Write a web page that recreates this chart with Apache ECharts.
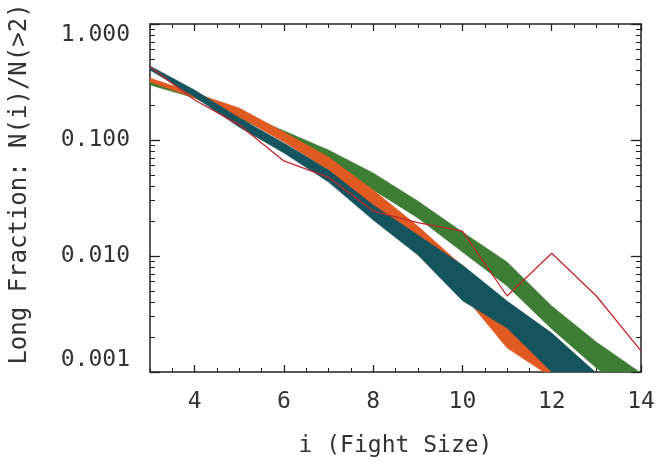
<!DOCTYPE html>
<html>
<head>
<meta charset="utf-8">
<script src="https://cdn.jsdelivr.net/npm/echarts@6/dist/echarts.min.js"></script>
<style>
  html, body { margin: 0; padding: 0; background: #fff; }
  #main { width: 661px; height: 464px; }
</style>
</head>
<body>
<div id="main"></div>
<script>
  // fight size on x, fraction on log y
  const redX = [3, 4, 5, 6, 7, 8, 9, 10, 11, 12, 13, 14];
  const redY = [0.428, 0.221, 0.135, 0.066, 0.0477, 0.0244, 0.0194, 0.0164, 0.00452, 0.01055, 0.00452, 0.00152];

  const greenX = [3, 4, 5, 6, 7, 8, 9, 10, 11, 12, 13, 14];
  const greenHi = [0.329, 0.244, 0.174, 0.120, 0.082, 0.052, 0.0298, 0.0161, 0.00887, 0.00371, 0.00181, 0.00098];
  const greenLo = [0.298, 0.230, 0.152, 0.106, 0.0646, 0.0371, 0.0213, 0.0108, 0.00551, 0.00235, 0.00108, 0.0006];

  const orangeX = [3, 4, 5, 6, 7, 8, 9, 10, 11, 12];
  const orangeHi = [0.342, 0.254, 0.189, 0.117, 0.0714, 0.0371, 0.0181, 0.0082, 0.00378, 0.00105];
  const orangeLo = [0.316, 0.230, 0.158, 0.0961, 0.0551, 0.0244, 0.011, 0.0047, 0.00161, 0.0009];

  const tealX = [3, 4, 5, 6, 7, 8, 9, 10, 11, 12, 13];
  const tealHi = [0.435, 0.270, 0.155, 0.0942, 0.0551, 0.0275, 0.0152, 0.00836, 0.00409, 0.00217, 0.00098];
  const tealLo = [0.401, 0.235, 0.129, 0.0773, 0.0434, 0.0204, 0.0102, 0.00412, 0.00239, 0.00100, 0.0005];

  const xMajor = [4, 6, 8, 10, 12, 14];
  const yMinor = [0.002, 0.003, 0.004, 0.005, 0.006, 0.007, 0.008, 0.009,
                  0.02, 0.03, 0.04, 0.05, 0.06, 0.07, 0.08, 0.09,
                  0.2, 0.3, 0.4, 0.5, 0.6, 0.7, 0.8, 0.9];

  const FONT = '"DejaVu Sans Mono", monospace';
  const INK = '#222';
  const TXT = '#333';

  function band(name, xs, lo, hi, color) {
    return {
      name: name,
      type: 'custom',
      xAxisIndex: 0,
      yAxisIndex: 0,
      data: xs.map((x, i) => [x, lo[i], hi[i]]),
      encode: { x: 0, y: [1, 2] },
      renderItem: function (params, api) {
        if (params.dataIndex !== 0) return;
        const pts = [];
        for (let i = 0; i < xs.length; i++) pts.push(api.coord([xs[i], hi[i]]));
        for (let i = xs.length - 1; i >= 0; i--) pts.push(api.coord([xs[i], lo[i]]));
        const cs = params.coordSys;
        return {
          type: 'polygon',
          shape: { points: pts },
          style: { fill: color, stroke: color, lineWidth: 0.5 },
          clipPath: { type: 'rect', shape: { x: cs.x, y: cs.y, width: cs.width, height: cs.height } }
        };
      }
    };
  }

  const baseX = { type: 'value', min: 3, max: 14, gridIndex: 0, splitLine: { show: false } };
  const baseY = { type: 'log', logBase: 10, min: 0.001, max: 1, gridIndex: 0, splitLine: { show: false } };
  const line = { show: true, lineStyle: { color: INK, width: 1.5 } };

  const chart = echarts.init(document.getElementById('main'));
  chart.setOption({
    animation: false,
    backgroundColor: '#fff',
    grid: { left: 150, right: 20, top: 24, bottom: 92, containLabel: false },
    xAxis: [
      Object.assign({}, baseX, {
        position: 'bottom',
        name: 'i (Fight Size)',
        nameLocation: 'middle',
        nameGap: 63,
        nameTextStyle: { fontFamily: FONT, fontSize: 23, color: TXT },
        axisLine: line,
        axisTick: { inside: true, length: 7, customValues: xMajor, lineStyle: { color: INK, width: 1.3 } },
        axisLabel: { customValues: xMajor, margin: 19, fontFamily: FONT, fontSize: 23, color: TXT }
      }),
      Object.assign({}, baseX, {
        position: 'bottom',
        interval: 0.5,
        axisLine: { show: false },
        axisTick: { inside: true, length: 4, lineStyle: { color: INK, width: 1 } },
        axisLabel: { show: false }
      }),
      Object.assign({}, baseX, {
        position: 'top',
        axisLine: line,
        axisTick: { inside: true, length: 7, customValues: xMajor, lineStyle: { color: INK, width: 1.3 } },
        axisLabel: { show: false }
      }),
      Object.assign({}, baseX, {
        position: 'top',
        interval: 0.5,
        axisLine: { show: false },
        axisTick: { inside: true, length: 4, lineStyle: { color: INK, width: 1 } },
        axisLabel: { show: false }
      })
    ],
    yAxis: [
      Object.assign({}, baseY, {
        position: 'left',
        name: 'Long Fraction: N(i)/N(>2)',
        nameLocation: 'middle',
        nameGap: 118,
        nameTextStyle: { fontFamily: FONT, fontSize: 24, color: TXT, padding: [0, 0, 0, 28] },
        axisLine: line,
        axisTick: { inside: true, length: 10, lineStyle: { color: INK, width: 1.3 } },
        axisLabel: {
          margin: 20, fontFamily: FONT, fontSize: 23, color: TXT,
          formatter: v => v.toFixed(3),
          verticalAlignMinLabel: 'bottom',
          verticalAlignMaxLabel: 'top'
        }
      }),
      Object.assign({}, baseY, {
        position: 'left',
        axisLine: { show: false },
        axisTick: { inside: true, length: 5, customValues: yMinor, lineStyle: { color: INK, width: 1 } },
        axisLabel: { show: false }
      }),
      Object.assign({}, baseY, {
        position: 'right',
        axisLine: line,
        axisTick: { inside: true, length: 10, lineStyle: { color: INK, width: 1.3 } },
        axisLabel: { show: false }
      }),
      Object.assign({}, baseY, {
        position: 'right',
        axisLine: { show: false },
        axisTick: { inside: true, length: 5, customValues: yMinor, lineStyle: { color: INK, width: 1 } },
        axisLabel: { show: false }
      })
    ],
    series: [
      band('green', greenX, greenLo, greenHi, '#3e7d34'),
      band('orange', orangeX, orangeLo, orangeHi, '#e05a22'),
      band('teal', tealX, tealLo, tealHi, '#14545f'),
      {
        name: 'red',
        type: 'line',
        xAxisIndex: 0,
        yAxisIndex: 0,
        data: redX.map((x, i) => [x, redY[i]]),
        symbol: 'none',
        clip: true,
        lineStyle: { color: '#c0282e', width: 1.3 },
        z: 5
      }
    ]
  });
</script>
</body>
</html>
